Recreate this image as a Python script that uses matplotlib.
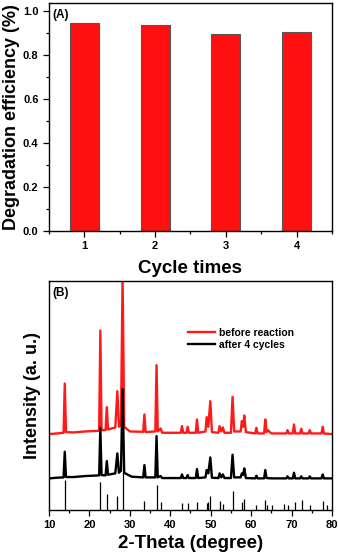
import matplotlib
matplotlib.use("Agg")
import matplotlib.pyplot as plt
from matplotlib.ticker import MultipleLocator

plt.rcParams['font.family'] = ['Liberation Sans', 'DejaVu Sans']
plt.rcParams['font.weight'] = 'bold'

# ---- Panel A data ----
cycles = [1, 2, 3, 4]
efficiency = [0.944, 0.936, 0.897, 0.906]

# ---- Panel B data (2-theta, intensity a.u.) ----
before_x = [10.0, 12.0, 13.6, 13.9, 14.2, 16.0, 19.0, 22.4, 22.7, 23.0, 24.0, 24.3, 24.6,
            26.4, 26.9, 27.3, 27.8, 28.2, 28.6, 30.0, 33.3, 33.6, 33.9, 36.3, 36.6, 36.9,
            37.6, 38.0, 42.6, 42.9, 43.2, 44.0, 44.3, 44.6, 46.3, 46.6, 46.9, 48.7, 49.0,
            49.4, 49.9, 50.3, 51.9, 52.2, 52.6, 53.0, 53.4, 55.0, 55.4, 55.8, 57.4, 57.7,
            58.0, 58.3, 58.7, 61.0, 61.3, 61.6, 63.2, 63.5, 63.8, 64.1, 65.0, 68.7, 69.0,
            69.3, 70.3, 70.6, 70.9, 72.1, 72.4, 72.7, 74.2, 74.5, 74.8, 77.4, 77.7, 78.0,
            80.0]
before_y = [228, 230, 232, 380, 234, 233, 236, 238, 539, 240, 240, 309, 242,
            248, 357, 250, 255, 700, 250, 236, 235, 287, 234, 236, 435, 236,
            245, 232, 232, 252, 232, 232, 250, 232, 232, 272, 232, 236, 279,
            250, 327, 234, 232, 252, 236, 248, 232, 232, 340, 236, 236, 267,
            250, 284, 234, 230, 247, 230, 230, 272, 234, 240, 230, 230, 240,
            230, 230, 257, 230, 230, 244, 230, 230, 240, 230, 230, 250, 230,
            228]

after_x = [10.0, 12.0, 13.6, 13.9, 14.2, 16.0, 19.0, 22.4, 22.7, 23.0, 24.0, 24.3, 24.6,
           26.4, 26.9, 27.3, 27.8, 28.2, 28.6, 29.5, 30.5, 33.3, 33.6, 33.9, 36.3, 36.6,
           36.9, 37.6, 38.0, 42.6, 42.9, 43.2, 44.0, 44.3, 44.6, 46.3, 46.6, 46.9, 48.7,
           49.0, 49.4, 49.9, 50.3, 51.9, 52.2, 52.6, 53.0, 53.4, 55.0, 55.4, 55.8, 57.4,
           57.7, 58.0, 58.3, 58.7, 61.0, 61.3, 61.6, 63.2, 63.5, 63.8, 65.0, 68.7, 69.0,
           69.3, 70.3, 70.6, 70.9, 72.1, 72.4, 72.7, 74.2, 74.5, 74.8, 77.4, 77.7, 78.0,
           80.0]
after_y = [95, 97, 98, 175, 99, 99, 102, 104, 247, 105, 104, 147, 106,
           110, 170, 112, 118, 363, 112, 106, 100, 98, 135, 98, 98, 222,
           98, 102, 96, 96, 107, 96, 96, 105, 96, 96, 123, 96, 98,
           120, 110, 158, 97, 96, 110, 98, 107, 96, 96, 166, 98, 98,
           110, 105, 125, 96, 95, 103, 95, 95, 120, 96, 95, 95, 101,
           95, 95, 112, 95, 95, 101, 95, 95, 101, 95, 95, 107, 95,
           95]

ref_pos = [13.9, 22.7, 24.3, 26.9, 28.2, 33.6, 36.6, 37.8, 42.9, 44.3, 46.6, 49.0, 49.3,
           49.9, 52.2, 53.1, 55.4, 57.7, 58.3, 61.3, 63.5, 64.0, 65.1, 68.2, 69.2, 70.8,
           72.6, 74.5, 77.7, 78.7]
ref_int = [90, 83, 49, 42, 120, 28, 76, 25, 22, 20, 23, 22, 23,
           42, 27, 18, 56, 24, 33, 15, 30, 15, 15, 19, 15, 23,
           31, 15, 27, 15]

legend_labels = ["before reaction", "after 4 cycles"]

W, H = 338, 555
fig = plt.figure(figsize=(W / 100, H / 100), dpi=100)

# ---------------- Panel A ----------------
axA = fig.add_axes([49 / W, 1 - 231 / H, 283 / W, 228 / H])
axA.bar(cycles, efficiency, width=0.41, color='#ff1010', edgecolor='#555555', linewidth=0.8)
axA.set_xlim(0.5, 4.5)
axA.set_ylim(0, 1.036)
axA.set_xticks(cycles)
axA.xaxis.set_minor_locator(MultipleLocator(0.5))
axA.yaxis.set_major_locator(MultipleLocator(0.2))
axA.yaxis.set_minor_locator(MultipleLocator(0.1))
axA.tick_params(which='both', direction='out', top=False, right=False, labelsize=8, width=0.9)
axA.tick_params(which='major', length=4)
axA.tick_params(which='minor', length=2.5)
axA.yaxis.set_major_formatter(matplotlib.ticker.FormatStrFormatter('%.1f'))
for lab in axA.get_xticklabels() + axA.get_yticklabels():
    lab.set_fontweight('bold')
axA.set_ylabel('Degradation efficiency (%)', fontsize=13, fontweight='bold', labelpad=2)
axA.set_xlabel('Cycle times', fontsize=13.5, fontweight='bold', labelpad=6)
axA.text(0.012, 0.975, '(A)', transform=axA.transAxes, fontsize=8.5, fontweight='bold',
         va='top', ha='left')
for s in axA.spines.values():
    s.set_linewidth(1.0)

# ---------------- Panel B ----------------
axB = fig.add_axes([49 / W, 1 - 510 / H, 283 / W, 229 / H])
axB.plot(before_x, before_y, color='#ff1a1a', linewidth=1.7, label=legend_labels[0])
axB.plot(after_x, after_y, color='black', linewidth=1.7, label=legend_labels[1])
axB.vlines(ref_pos, 0, ref_int, color='black', linewidth=0.9)
axB.set_xlim(10, 80)
axB.set_ylim(0, 688)
axB.xaxis.set_major_locator(MultipleLocator(10))
axB.xaxis.set_minor_locator(MultipleLocator(5))
axB.set_yticks([])
axB.tick_params(which='both', direction='out', top=False, right=False, labelsize=8, width=0.9)
axB.tick_params(which='major', length=4)
axB.tick_params(which='minor', length=2.5)
for lab in axB.get_xticklabels():
    lab.set_fontweight('bold')
axB.set_ylabel('Intensity (a. u.)', fontsize=13, fontweight='bold', labelpad=6)
axB.set_xlabel('2-Theta (degree)', fontsize=13.5, fontweight='bold', labelpad=3)
axB.text(0.012, 0.975, '(B)', transform=axB.transAxes, fontsize=8.5, fontweight='bold',
         va='top', ha='left')
leg = axB.legend(loc='upper left', bbox_to_anchor=(0.475, 0.815), frameon=False,
                 fontsize=7.5, handlelength=2.6, handletextpad=0.4, labelspacing=0.2,
                 borderaxespad=0)
for t in leg.get_texts():
    t.set_fontweight('bold')
for s in axB.spines.values():
    s.set_linewidth(1.0)

fig.savefig('out.png', dpi=100)
